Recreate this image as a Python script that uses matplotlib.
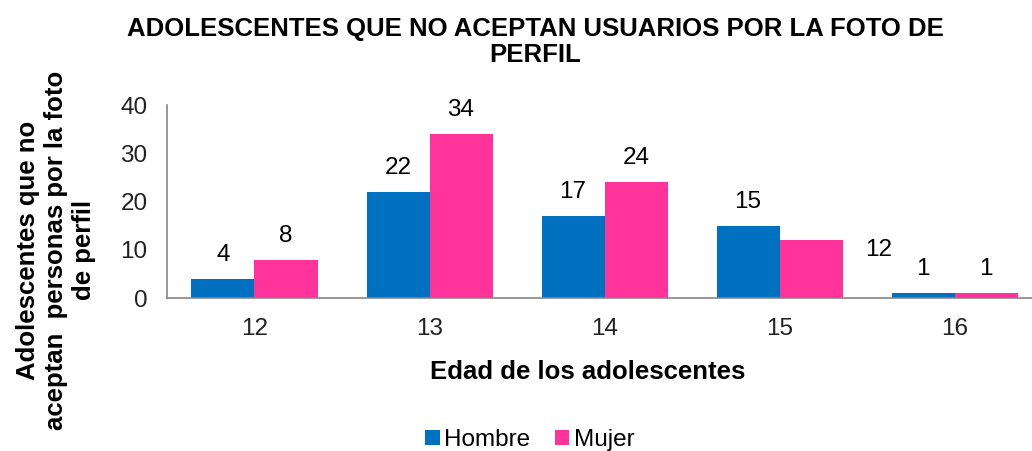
import numpy as np
import matplotlib.pyplot as plt

plt.rcParams['font.family'] = ['Liberation Sans', 'DejaVu Sans']

edades = ["12", "13", "14", "15", "16"]
hombre = [4, 22, 17, 15, 1]
mujer = [8, 34, 24, 12, 1]

azul = "#0070C0"
rosa = "#FF3399"

fig = plt.figure(figsize=(10.32, 4.51), dpi=100)
ax = fig.add_axes([0.1618, 0.339, 0.848, 0.428])

x = np.arange(len(edades))
w = 0.36
b1 = ax.bar(x - w / 2, hombre, w, color=azul, label="Hombre")
b2 = ax.bar(x + w / 2, mujer, w, color=rosa, label="Mujer")

ax.set_xlim(-0.5, 4.5)
ax.set_ylim(0, 40)
ax.set_yticks([0, 10, 20, 30, 40])
ax.set_xticks(x)
ax.set_xticklabels(edades)
ax.tick_params(length=0, labelsize=17.5, colors="#222222")
ax.tick_params(axis="x", pad=14)
ax.tick_params(axis="y", pad=14)
for s in ["top", "right"]:
    ax.spines[s].set_visible(False)
for s in ["left", "bottom"]:
    ax.spines[s].set_color("#868686")
    ax.spines[s].set_linewidth(1.2)

# value labels
for bars, vals in [(b1, hombre), (b2, mujer)]:
    for r, v in zip(bars, vals):
        cx = r.get_x() + r.get_width() / 2
        if bars is b2 and v == 12:
            # this one sits off to the right of its bar in the original
            ax.annotate(str(v), (cx, v), xytext=(68, -10), textcoords="offset pixels",
                        ha="center", va="center", fontsize=17.5)
        else:
            ax.annotate(str(v), (cx, v), xytext=(0, 24), textcoords="offset pixels",
                        ha="center", va="center", fontsize=17.5)

fig.text(535 / 1032, 1 - 42 / 451, "ADOLESCENTES QUE NO ACEPTAN USUARIOS POR LA FOTO DE\nPERFIL",
         ha="center", va="center", fontsize=18.5, fontweight="bold", linespacing=1.15)
fig.text(588 / 1032, 1 - 372 / 451, "Edad de los adolescentes",
         ha="center", va="center", fontsize=18.5, fontweight="bold")
fig.text(56 / 1032, 1 - 250 / 451, "Adolescentes que no\naceptan  personas por la foto\nde perfil",
         ha="center", va="center", rotation=90, fontsize=18.5, fontweight="bold",
         linespacing=1.2)

fig.legend(loc="center", bbox_to_anchor=(530 / 1032, 1 - 440 / 451), ncol=2,
           frameon=False, fontsize=17.5, handlelength=0.6, handleheight=0.6,
           handletextpad=0.2, columnspacing=1.0)

fig.savefig("out.png", dpi=100)
